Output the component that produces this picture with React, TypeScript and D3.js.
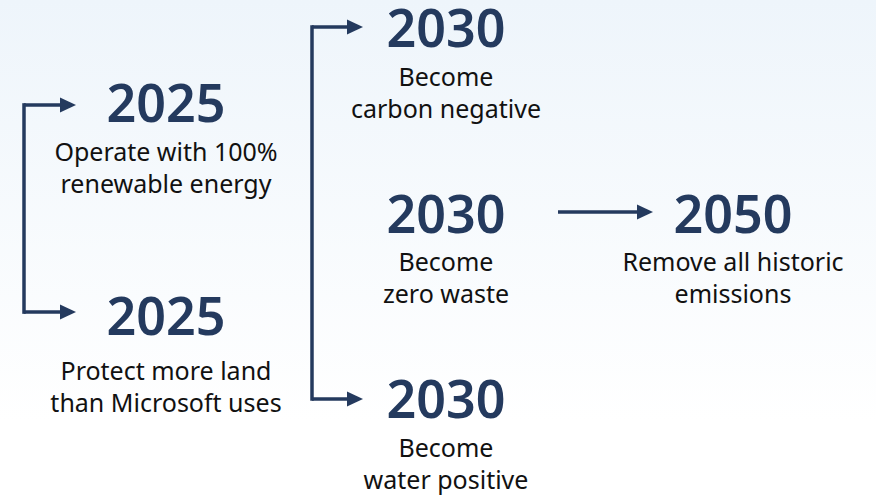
import React, { useEffect } from 'react';
import * as d3 from 'd3';

// ---- data ----
const years = ['2025', '2025', '2030', '2030', '2030', '2050'];
const labelLine1 = ['Operate with 100%', 'Protect more land', 'Become', 'Become', 'Become', 'Remove all historic'];
const labelLine2 = ['renewable energy', 'than Microsoft uses', 'carbon negative', 'zero waste', 'water positive', 'emissions'];
const stage = [0, 0, 1, 1, 1, 2];
const slot = [0.404, 1.553, 0, 1, 2, 1];
const groups = [[0, 1], [2, 4]];
const links = [[3, 5]];

// ---- layout ----
const W = 876;
const H = 496;
const NAVY = '#243a5e';
const FONT = "'Noto Sans', 'Open Sans', sans-serif";
const xCol = d3.scaleOrdinal<number, number>().domain([0, 1, 2]).range([166, 446, 733]);
const yRow = d3.scaleLinear().domain([0, 2]).range([47, 418]);
const labelDy = [39, 45, 39, 38, 39, 38];
const bracketX = [24, 312];
const bracketTip = [76, 363];
const linkX = [[558, 653]];
const arrowDy = [-17, -23, -20, -20, -19, -21];

export default function App() {
  useEffect(() => {
    document.body.style.margin = '0';
  }, []);
  const line = d3.line<[number, number]>();
  const head = (x: number, y: number) => `M${x},${y} L${x - 16},${y - 7.5} L${x - 16},${y + 7.5} Z`;
  const ay = (i: number) => yRow(slot[i]) + arrowDy[i];

  return (
    <svg width={W} height={H} style={{ position: 'absolute', left: 0, top: 0, display: 'block' }}>
      <defs>
        <linearGradient id="bg" x1="0" y1="0" x2="0" y2="1">
          <stop offset="0" stopColor="#eef5fb" />
          <stop offset="0.85" stopColor="#ffffff" />
          <stop offset="1" stopColor="#ffffff" />
        </linearGradient>
      </defs>
      <rect width={W} height={H} fill="url(#bg)" />

      {groups.map((g, gi) => {
        const ys = g.map(ay);
        const bx = bracketX[gi];
        const tip = bracketTip[gi];
        return (
          <g key={'g' + gi}>
            <path
              d={line([[bx, d3.min(ys)!], [bx, d3.max(ys)!]]) || ''}
              stroke={NAVY}
              strokeWidth={3.5}
              fill="none"
              strokeLinecap="square"
            />
            {ys.map((y, k) => (
              <g key={k}>
                <path d={line([[bx, y], [tip - 12, y]]) || ''} stroke={NAVY} strokeWidth={3.5} fill="none" />
                <path d={head(tip, y)} fill={NAVY} />
              </g>
            ))}
          </g>
        );
      })}

      {links.map(([a, b], li) => {
        const y = (ay(a) + ay(b)) / 2;
        const [x0, x1] = linkX[li];
        return (
          <g key={'l' + li}>
            <path d={line([[x0, y], [x1 - 12, y]]) || ''} stroke={NAVY} strokeWidth={3.5} fill="none" />
            <path d={head(x1, y)} fill={NAVY} />
          </g>
        );
      })}

      {years.map((yr, i) => {
        const cx = xCol(stage[i]);
        const by = yRow(slot[i]);
        return (
          <g key={'n' + i} fontFamily={FONT} textAnchor="middle">
            <text x={cx} y={by} fontSize={52} fontWeight={600} fill={NAVY}>
              {yr}
            </text>
            <text x={cx} y={by + labelDy[i]} fontSize={25} fill="#111">
              {labelLine1[i]}
            </text>
            <text x={cx} y={by + labelDy[i] + 32} fontSize={25} fill="#111">
              {labelLine2[i]}
            </text>
          </g>
        );
      })}
    </svg>
  );
}
